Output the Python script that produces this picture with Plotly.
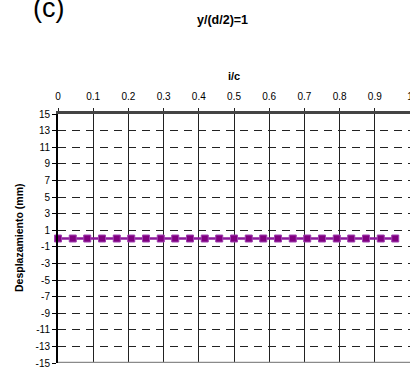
import plotly.graph_objects as go

# data
ic_values = [0.0, 0.042, 0.083, 0.125, 0.167, 0.208, 0.25, 0.292, 0.333, 0.375, 0.417, 0.458,
             0.5, 0.542, 0.583, 0.625, 0.667, 0.708, 0.75, 0.792, 0.833, 0.875, 0.917, 0.958]
desplazamiento = [0, 0, 0, 0, 0, 0, 0, 0, 0, 0, 0, 0,
                  0, 0, 0, 0, 0, 0, 0, 0, 0, 0, 0, 0]
x_ticks = [0, 0.1, 0.2, 0.3, 0.4, 0.5, 0.6, 0.7, 0.8, 0.9, 1]
x_tick_labels = ["0", "0.1", "0.2", "0.3", "0.4", "0.5", "0.6", "0.7", "0.8", "0.9", "1"]
y_ticks = [-15, -13, -11, -9, -7, -5, -3, -1, 1, 3, 5, 7, 9, 11, 13, 15]
y_tick_labels = ["-15", "-13", "-11", "-9", "-7", "-5", "-3", "-1", "1", "3", "5", "7", "9", "11", "13", "15"]

FONT = "Liberation Sans, Arial, sans-serif"

# plot area in pixels
L, R, T, B = 58, 410, 114, 363


def px_x(p):
    return (p - L) / (R - L)


def px_y(p):
    return (B - p) / (B - T)


fig = go.Figure()
fig.add_trace(go.Scatter(
    x=ic_values, y=desplazamiento, mode="lines+markers",
    line=dict(color="#8B1A9B", width=2.5),
    marker=dict(symbol="square", size=7, color="#800080",
                line=dict(color="#A040B0", width=1)),
    showlegend=False, cliponaxis=False,
))

fig.add_shape(type="line", xref="x domain", yref="y", x0=0, x1=1, y0=-15, y1=-15,
              line=dict(color="#8a8a8a", width=2.5), layer="above")

fig.update_layout(
    width=410, height=367,
    margin=dict(l=L, r=410 - R, t=T, b=367 - B, autoexpand=False),
    paper_bgcolor="white", plot_bgcolor="white",
    font=dict(family=FONT, color="black", size=10),
    xaxis=dict(
        side="top", range=[0, 1.0], tickvals=x_ticks, ticktext=x_tick_labels,
        showgrid=True, gridcolor="#222", gridwidth=1,
        showline=True, linecolor="#444", linewidth=3,
        ticks="outside", ticklen=3, tickcolor="#222", tickwidth=1,
        tickfont=dict(size=10, family=FONT), ticklabelstandoff=4,
        ticklabeloverflow="allow",
        zeroline=False, automargin=False,
    ),
    yaxis=dict(
        range=[-15, 15], tickvals=y_ticks, ticktext=y_tick_labels,
        showgrid=True, gridcolor="#222", gridwidth=1, griddash="8px,6px",
        showline=True, linecolor="black", linewidth=2,
        ticks="outside", ticklen=4, tickcolor="black", tickwidth=1,
        tickfont=dict(size=10, family=FONT), ticklabeloverflow="allow",
        zeroline=False, automargin=False,
    ),
    annotations=[
        dict(text="<b>y/(d/2)=1</b>", xref="paper", yref="paper", x=px_x(222), y=px_y(20),
             xanchor="center", yanchor="middle", showarrow=False,
             font=dict(size=12.5, family=FONT, color="black")),
        dict(text="(c)", xref="paper", yref="paper", x=px_x(48), y=px_y(8),
             xanchor="center", yanchor="middle", showarrow=False,
             font=dict(size=27, family=FONT, color="black")),
        dict(text="<b>i/c</b>", xref="paper", yref="paper", x=px_x(234), y=px_y(76),
             xanchor="center", yanchor="middle", showarrow=False,
             font=dict(size=11, family=FONT, color="black")),
        dict(text="<b>Desplazamiento (mm)</b>", xref="paper", yref="paper", x=px_x(19), y=px_y(238),
             xanchor="center", yanchor="middle", showarrow=False, textangle=-90,
             font=dict(size=10.5, family=FONT, color="black")),
    ],
)

fig.write_html("out.html", config={"displayModeBar": False},
               post_script="document.body.style.margin='0';document.body.style.overflow='hidden';")
